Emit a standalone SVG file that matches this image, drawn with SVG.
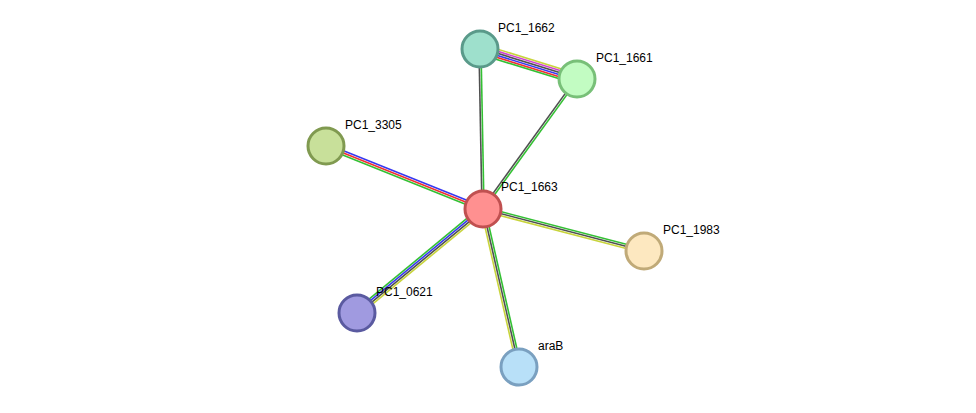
<svg xmlns="http://www.w3.org/2000/svg" width="976" height="413" viewBox="0 0 976 413">
<style>
line{stroke-width:1.6}
.g{stroke:#33c033}.k{stroke:#505050}.y{stroke:#c8d43c}.m{stroke:#d040d0}.b{stroke:#3838f0}.r{stroke:#f03030}
circle{stroke-width:3}
text{font-family:"Liberation Sans",Arial,sans-serif;font-size:12px;fill:#000}
</style>
<rect width="976" height="413" fill="#fff"/>
<g id="connectors">
<line class="k" x1="479" y1="49" x2="482" y2="209"/>
<line class="g" x1="481" y1="49" x2="484" y2="209"/>
<line class="k" x1="576.2" y1="78.4" x2="482.2" y2="208.4"/>
<line class="g" x1="577.8" y1="79.6" x2="483.8" y2="209.6"/>
<line class="y" x1="481.5" y1="44.2" x2="578.5" y2="74.2"/>
<line class="m" x1="480.9" y1="46.1" x2="577.9" y2="76.1"/>
<line class="k" x1="480.3" y1="48" x2="577.3" y2="78"/>
<line class="b" x1="479.7" y1="50" x2="576.7" y2="80"/>
<line class="r" x1="479.1" y1="51.9" x2="576.1" y2="81.9"/>
<line class="g" x1="478.5" y1="53.8" x2="575.5" y2="83.8"/>
<line class="b" x1="326.7" y1="144.1" x2="483.7" y2="207.1"/>
<line class="r" x1="326" y1="146" x2="483" y2="209"/>
<line class="g" x1="325.3" y1="147.9" x2="482.3" y2="210.9"/>
<line class="g" x1="483.5" y1="207.1" x2="644.5" y2="249.1"/>
<line class="k" x1="483" y1="209" x2="644" y2="251"/>
<line class="y" x1="482.5" y1="210.9" x2="643.5" y2="252.9"/>
<line class="g" x1="481.1" y1="206.7" x2="355.1" y2="310.7"/>
<line class="b" x1="482.4" y1="208.2" x2="356.4" y2="312.2"/>
<line class="k" x1="483.6" y1="209.8" x2="357.6" y2="313.8"/>
<line class="y" x1="484.9" y1="211.3" x2="358.9" y2="315.3"/>
<line class="y" x1="481" y1="209.4" x2="517" y2="367.4"/>
<line class="k" x1="483" y1="209" x2="519" y2="367"/>
<line class="g" x1="485" y1="208.6" x2="521" y2="366.6"/>
</g>
<g id="PC1_1662"><circle cx="480" cy="49" r="18" fill="#9ee0cc" stroke="#5a9a8a"/><text x="498" y="32">PC1_1662</text></g>
<g id="PC1_1661"><circle cx="577" cy="79" r="18" fill="#c2fcc2" stroke="#78c078"/><text x="596" y="62">PC1_1661</text></g>
<g id="PC1_3305"><circle cx="326" cy="146" r="18" fill="#c8e09a" stroke="#809a50"/><text x="345" y="129">PC1_3305</text></g>
<g id="PC1_1663"><circle cx="483" cy="209" r="18" fill="#ff9090" stroke="#c05050"/><text x="501" y="191">PC1_1663</text></g>
<g id="PC1_1983"><circle cx="644" cy="251" r="18" fill="#fde8c0" stroke="#c0aa78"/><text x="663" y="234">PC1_1983</text></g>
<g id="PC1_0621"><circle cx="357" cy="313" r="18" fill="#a09ae0" stroke="#5a5aa0"/><text x="376" y="296">PC1_0621</text></g>
<g id="araB"><circle cx="519" cy="367" r="18" fill="#b8e0f8" stroke="#7aa0c0"/><text x="538" y="350">araB</text></g>
</svg>
